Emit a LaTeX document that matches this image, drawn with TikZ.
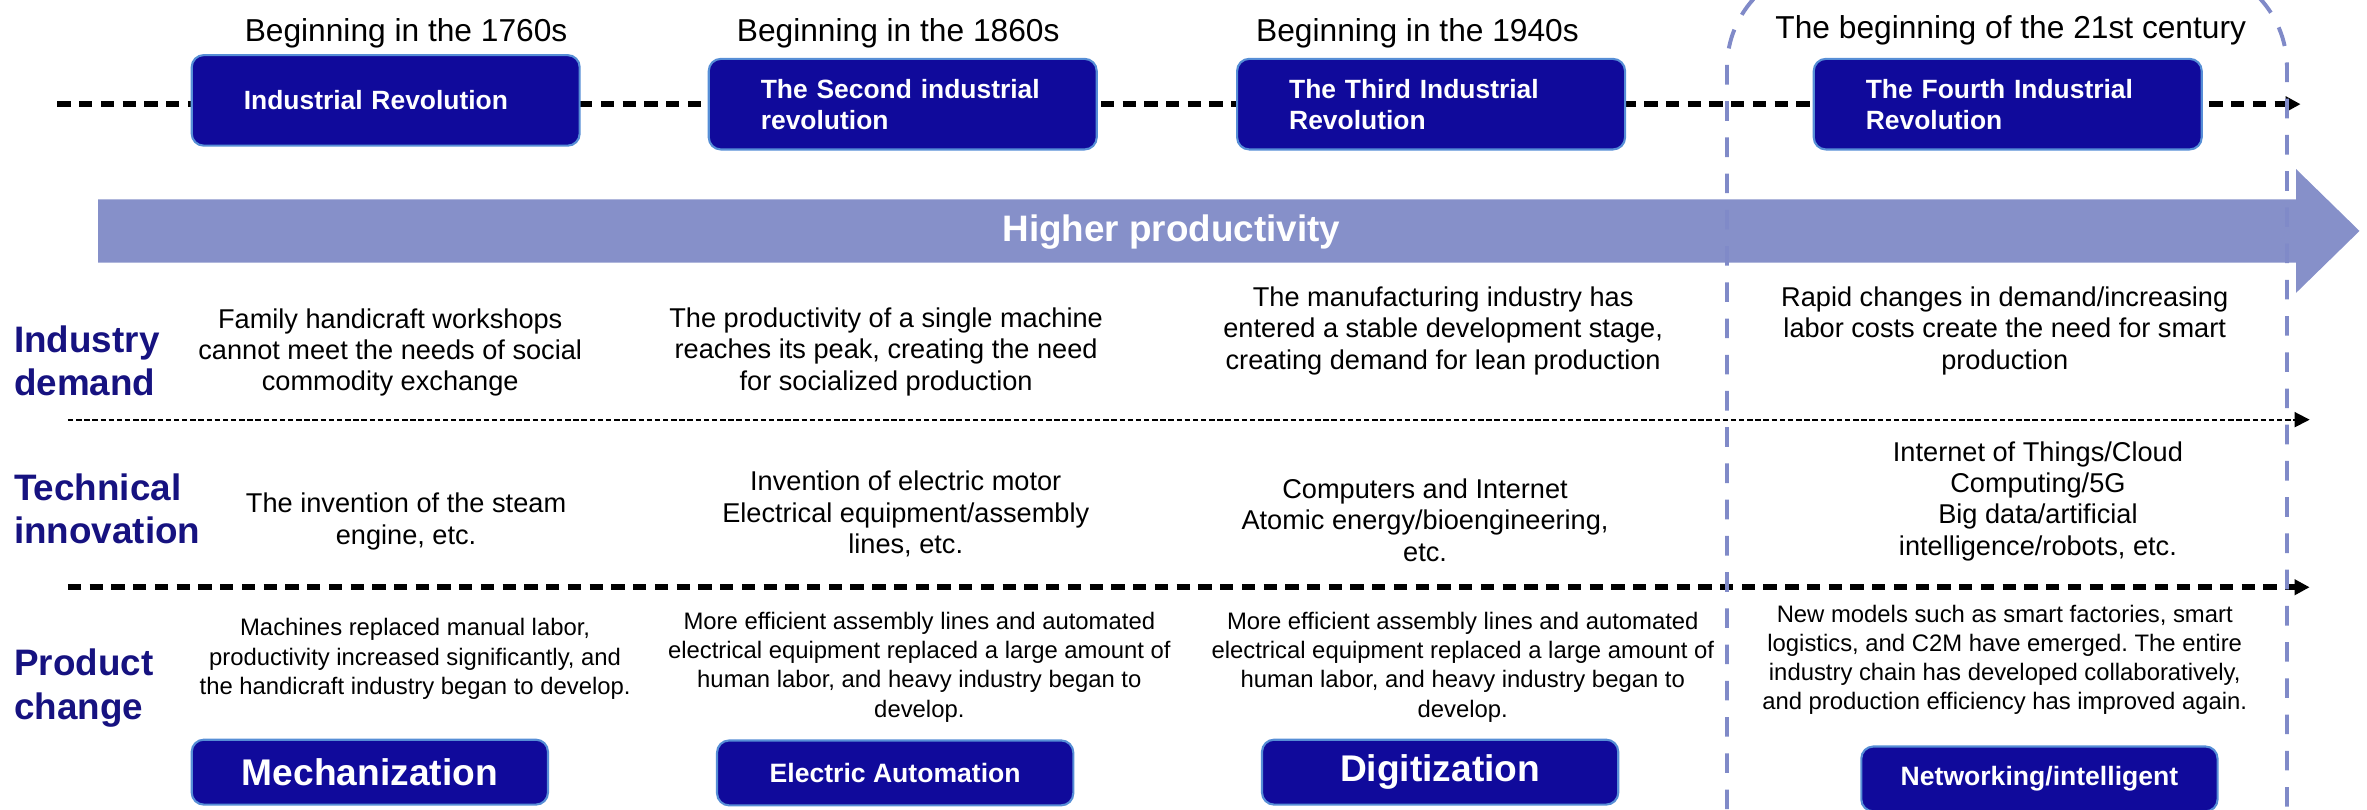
\documentclass[tikz,border=0pt]{standalone}
\usepackage{fontspec}
\setmainfont{Liberation Sans}
\frenchspacing
\usetikzlibrary{arrows.meta,positioning}
\definecolor{eraBlue}{RGB}{16,10,155}
\definecolor{eraEdge}{RGB}{86,142,214}
\definecolor{flowFill}{RGB}{134,144,201}
\definecolor{zoneLine}{RGB}{128,138,200}
\definecolor{rowBlue}{RGB}{22,18,128}
\tikzset{
  era/.style={draw=eraEdge,line width=0.7pt,fill=eraBlue,rounded corners=4pt,text=white,
    font=\bfseries\fontsize{8.75}{10.25}\selectfont,align=left,text width=94pt,inner xsep=17.25pt,minimum height=30pt},
  stage/.style={draw=eraEdge,line width=0.7pt,fill=eraBlue,rounded corners=4pt,text=white,
    minimum width=118pt,minimum height=21.5pt,inner sep=0pt},
  bigstage/.style={stage,font=\bfseries\fontsize{12.3}{14}\selectfont},
  smallstage/.style={stage,font=\bfseries\fontsize{8.8}{10}\selectfont},
  when/.style={font=\fontsize{10.5}{12}\selectfont,inner sep=0pt},
  cell/.style={align=center,font=\fontsize{9}{10.4}\selectfont,inner sep=0pt},
  smallcell/.style={align=center,font=\fontsize{7.9}{9.65}\selectfont,inner sep=0pt},
  rowhead/.style={align=left,anchor=west,text=rowBlue,font=\bfseries\fontsize{12.2}{14.5}\selectfont,inner sep=0pt},
  timeline/.style={line width=1.9pt,dash pattern=on 4.4pt off 2.8pt,->},
  divider/.style={line width=0.6pt,dash pattern=on 1.8pt off 0.9pt,->},
  zone/.style={draw=zoneLine,line width=1.3pt,dash pattern=on 6.5pt off 5.5pt,rounded corners=34pt}
}

\begin{document}
\begin{tikzpicture}[line join=round,>={Triangle[length=5pt,width=5pt]},x=0.5pt,y=-0.5pt]
\useasboundingbox (0,0) rectangle (1568,536);
\clip (0,0) rectangle (1568,536);

% productivity arrow
\fill[flowFill] (65,132) -- (1521,132) -- (1521,112) -- (1563,153) -- (1521,194) -- (1521,174) -- (65,174) -- cycle;
\node[font=\bfseries\fontsize{12.2}{14}\selectfont,text=white] (gain) at (776,154) {Higher productivity};

% time axis and row dividers
\coordinate (tlstart) at (38,69);
\coordinate (tlend) at (1524,69);
\draw[timeline] (tlstart) -- (tlend);
\coordinate (divAs) at (45,278);
\coordinate (divAe) at (1530,278);
\draw[divider] (divAs) -- (divAe);
\coordinate (divBs) at (45,389);
\coordinate (divBe) at (1530,389);
\draw[timeline] (divBs) -- (divBe);

% fourth revolution zone
\draw[zone] (1144,560) -- (1144,-23) -- (1515,-23) -- (1515,560);

% eras
\node[when] (y1760) at (269,22) {Beginning in the 1760s};
\node[when] (y1860) at (595,22) {Beginning in the 1860s};
\node[when] (y1940) at (939,22) {Beginning in the 1940s};
\node[when] (y2000) at (1332,20) {The beginning of the 21st century};
\node[era] (era1) at (255.5,66.5) {Industrial Revolution};
\node[era] (era2) at (598,69) {The Second industrial\\revolution};
\node[era] (era3) at (948,69) {The Third Industrial\\Revolution};
\node[era] (era4) at (1330,69) {The Fourth Industrial\\Revolution};

% row headings
\node[rowhead] (demand) at (9,239) {Industry\\demand};
\node[rowhead] (innov) at (9,337) {Technical\\innovation};
\node[rowhead] (change) at (9,456) {Product\\change};

% industry demand
\node[cell] (need1) at (258.5,233.5) {Family handicraft workshops\\cannot meet the needs of social\\commodity exchange};
\node[cell] (need2) at (587,233) {The productivity of a single machine\\reaches its peak, creating the need\\for socialized production};
\node[cell] (need3) at (956,219) {The manufacturing industry has\\entered a stable development stage,\\creating demand for lean production};
\node[cell] (need4) at (1328,219) {Rapid changes in demand/increasing\\labor costs create the need for smart\\production};

% technical innovation
\node[cell] (tech1) at (269,345.5) {The invention of the steam\\engine, etc.};
\node[cell] (tech2) at (600,340.5) {Invention of electric motor\\Electrical equipment/assembly\\lines, etc.};
\node[cell] (tech3) at (944,344.5) {Computers and Internet\\Atomic energy/bioengineering,\\etc.};
\node[cell] (tech4) at (1350,332) {Internet of Things/Cloud\\Computing/5G\\Big data/artificial\\intelligence/robots, etc.};

% product change
\node[smallcell] (prod1) at (275,436.5) {Machines replaced manual labor,\\productivity increased significantly, and\\the handicraft industry began to develop.};
\node[smallcell] (prod2) at (609,442) {More efficient assembly lines and automated\\electrical equipment replaced a large amount of\\human labor, and heavy industry began to\\develop.};
\node[smallcell] (prod3) at (969,442) {More efficient assembly lines and automated\\electrical equipment replaced a large amount of\\human labor, and heavy industry began to\\develop.};
\node[smallcell] (prod4) at (1328,437) {New models such as smart factories, smart\\logistics, and C2M have emerged. The entire\\industry chain has developed collaboratively,\\and production efficiency has improved again.};

\node[bigstage] (mech) at (245,511.5) {Mechanization};
\node[smallstage] (elec) at (593,512) {Electric Automation};
\node[bigstage] (digi) at (954,511.5) {Digitization};
\node[smallstage] (net) at (1351,516) {Networking/intelligent};
\end{tikzpicture}
\end{document}
